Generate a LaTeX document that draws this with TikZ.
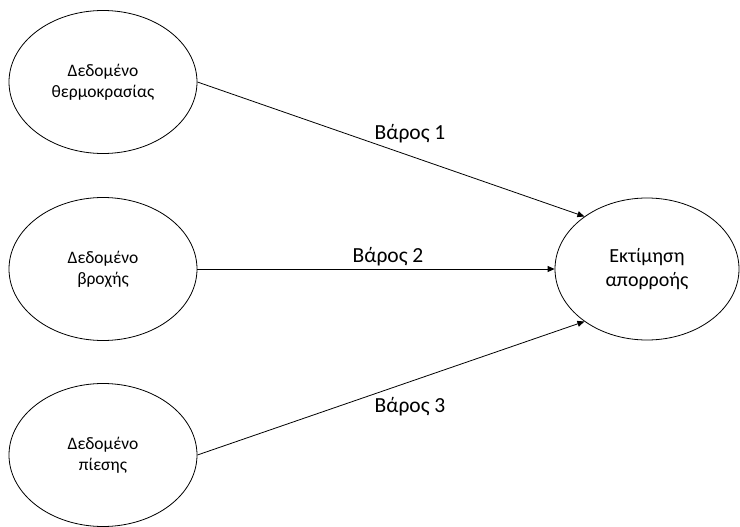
\documentclass[tikz,border=0pt]{standalone}
\usepackage{fontspec}
\setmainfont{Carlito}
\usetikzlibrary{shapes.geometric,arrows.meta}
\begin{document}
\begin{tikzpicture}[x=1pt,y=-1pt,
  inp/.style={ellipse,draw,line width=0.8pt,minimum width=188pt,minimum height=143pt,inner sep=0pt,align=center,font=\fontsize{17.5}{21}\selectfont},
  outp/.style={ellipse,draw,line width=0.8pt,minimum width=184pt,minimum height=142pt,inner sep=0pt,align=center,font=\fontsize{20}{24}\selectfont},
  conn/.style={draw,line width=0.8pt,-{Triangle[length=7pt,width=6pt]}},
  wlabel/.style={font=\fontsize{21.5}{24}\selectfont,inner sep=0pt}]
\useasboundingbox (0,0) rectangle (740,527);
\node[inp] (t) at (103,82) {Δεδομένο\\θερμοκρασίας};
\node[inp] (b) at (103,269) {Δεδομένο\\βροχής};
\node[inp] (p) at (103,455) {Δεδομένο\\πίεσης};
\node[outp] (r) at (647,269) {Εκτίμηση\\απορροής};
\draw[conn] (t.east) -- (r.140);
\draw[conn] (b.east) -- (r.west);
\draw[conn] (p.east) -- (r.220);
\node[wlabel] (l1) at (410,134) {Βάρος 1};
\node[wlabel] (l2) at (388,257) {Βάρος 2};
\node[wlabel] (l3) at (410,407) {Βάρος 3};
\end{tikzpicture}
\end{document}
